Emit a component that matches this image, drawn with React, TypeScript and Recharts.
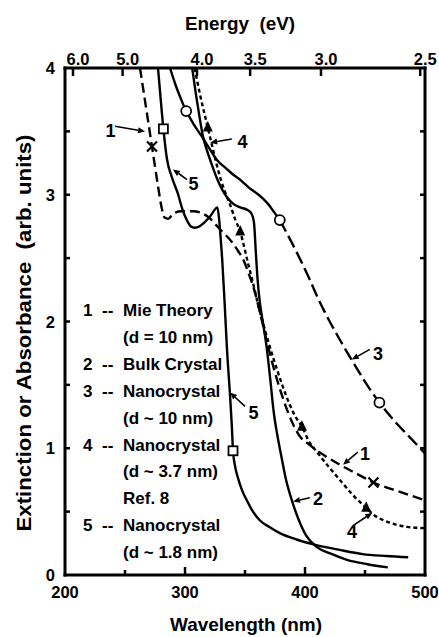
import React from "react";
import {
  ComposedChart,
  Line,
  Scatter,
  XAxis,
  YAxis,
  ReferenceLine,
  ReferenceDot,
} from "recharts";

// [wavelength (nm), extinction / absorbance]
const mieTheory = [
  [262.5, 4.0], [267.5, 3.69], [272.5, 3.38], [277, 3.1], [280.5, 2.9], [283, 2.82],
  [286, 2.81], [290, 2.85], [297, 2.87], [307, 2.87], [315, 2.85], [320, 2.82],
  [326, 2.76], [331, 2.71], [338, 2.64], [344, 2.56], [349, 2.48], [353, 2.38],
  [358, 2.24], [363, 2.05], [368, 1.85], [374, 1.63], [380, 1.44], [386, 1.28],
  [391, 1.17], [396, 1.09], [402, 1.04], [415, 0.95], [429, 0.87], [443, 0.8],
  [457, 0.73], [478, 0.66], [500, 0.59],
];
const bulkCrystal = [
  [306, 4.0], [309, 3.8], [312, 3.62], [315, 3.46], [319, 3.33], [323, 3.22],
  [327, 3.12], [331, 3.04], [335, 2.98], [340, 2.93], [346, 2.9], [352, 2.88],
  [355.5, 2.85], [357.5, 2.78], [359, 2.55], [360.5, 2.33], [362.5, 2.14], [365, 1.99],
  [368, 1.8], [371, 1.55], [374, 1.28], [377, 1.1], [380, 0.95], [384, 0.76],
  [389, 0.59], [395, 0.43], [401, 0.31], [410, 0.22], [421, 0.17], [435, 0.12],
  [452, 0.085], [469, 0.06],
];
const nano10Solid = [
  [287.5, 4.0], [292, 3.87], [296, 3.77], [301, 3.66], [307, 3.56], [314, 3.46],
  [320, 3.37], [327, 3.27], [334, 3.21], [340, 3.16], [347, 3.11], [354, 3.05],
  [360, 3.01], [365, 2.97], [369, 2.93], [373, 2.88], [376, 2.84], [379, 2.8],
];
const nano10Dashed = [
  [379, 2.8], [388, 2.64], [396, 2.49], [404, 2.33], [411, 2.18], [420, 2.01],
  [430, 1.84], [440, 1.68], [451, 1.51], [462, 1.36], [475, 1.21], [488, 1.08],
  [500, 0.96],
];
const nano37 = [
  [308, 4.0], [313, 3.77], [319, 3.53], [323.5, 3.35], [328, 3.18], [333, 3.03],
  [338, 2.91], [342, 2.8], [346, 2.71], [349, 2.6], [352, 2.48], [356, 2.33],
  [361, 2.13], [367, 1.92], [374, 1.7], [381, 1.5], [387, 1.35], [392, 1.25],
  [397.5, 1.17], [403, 1.06], [410, 0.97], [421, 0.84], [430, 0.74], [440, 0.63],
  [451, 0.53], [458, 0.47], [466, 0.43], [475, 0.4], [485, 0.38], [500, 0.37],
];
const nano18 = [
  [277.5, 4.0], [279.5, 3.78], [282, 3.52], [285, 3.28], [289, 3.14], [294, 3.01],
  [298, 2.88], [301.5, 2.8], [305, 2.75], [308, 2.74], [312, 2.75], [316, 2.78],
  [321, 2.83], [327, 2.9], [328.5, 2.8], [330, 2.62], [331, 2.49], [333, 2.15],
  [335, 1.78], [337.5, 1.42], [339, 1.18], [340, 0.98], [341.7, 0.86], [344, 0.77],
  [347.5, 0.67], [352, 0.58], [356, 0.51], [362.5, 0.43], [370, 0.38], [379, 0.33],
  [393, 0.28], [408, 0.24], [428, 0.2], [448, 0.165], [468, 0.15], [486, 0.14],
];

// symbols sitting on the curves
const mieMarks = [[272.5, 3.38], [457, 0.73]];
const nano10Marks = [[301, 3.66], [379, 2.8], [462, 1.36]];
const nano37Marks = [[319, 3.53], [346, 2.71], [397.5, 1.17], [451, 0.53]];
const nano18Marks = [[282, 3.52], [340, 0.98]];

// axis ticks
const wavelengthTicks = [200, 250, 300, 350, 400, 450, 500];
const wavelengthLabels = [200, 300, 400, 500];
const energyTicks = [6.0, 5.0, 4.0, 3.5, 3.0, 2.5];
const valueTicks = [0, 0.5, 1, 1.5, 2, 2.5, 3, 3.5, 4];
const valueLabels = [0, 1, 2, 3, 4];

const legendLines = [
  ["1", "Mie Theory"],
  ["", "(d = 10 nm)"],
  ["2", "Bulk Crystal"],
  ["3", "Nanocrystal"],
  ["", "(d ~ 10 nm)"],
  ["4", "Nanocrystal"],
  ["", "(d ~ 3.7 nm)"],
  ["", "Ref. 8"],
  ["5", "Nanocrystal"],
  ["", "(d ~ 1.8 nm)"],
];

// curve number callouts: label centre, arrow tail, arrow tip (nm, value)
const callouts = [
  { text: "1", at: [237.9, 3.505], from: [241.7, 3.54], to: [266.7, 3.5] },
  { text: "4", at: [347.9, 3.42], from: [339, 3.44], to: [321, 3.41] },
  { text: "5", at: [307.1, 3.085], from: [301.7, 3.12], to: [290, 3.2] },
  { text: "5", at: [357.1, 1.28], from: [350, 1.33], to: [337.5, 1.44] },
  { text: "3", at: [460.8, 1.75], from: [454, 1.78], to: [439, 1.7] },
  { text: "1", at: [450, 0.955], from: [444, 0.97], to: [431.7, 0.87] },
  { text: "2", at: [410.8, 0.6], from: [404, 0.61], to: [390, 0.58] },
  { text: "4", at: [439.2, 0.343], from: [440, 0.39], to: [456, 0.49] },
];

const toPts = (rows: number[][]) => rows.map(([x, y]) => ({ x, y }));

const FONT = "'Liberation Sans', Arial, Helvetica, sans-serif";
const tickFont = { fontFamily: FONT, fontWeight: 700, fontSize: 16.5, fill: "#000" };
const INK = "#000";

const BottomTick = ({ x, y, payload }: any) => {
  const v = payload.value;
  const major = wavelengthLabels.includes(v);
  return (
    <g>
      {v > 200 && v < 500 && (
        <line x1={x} x2={x} y1={y} y2={y - (major ? 8 : 5)} stroke={INK} strokeWidth={2.5} />
      )}
      {major && (
        <text x={x} y={y + 23} textAnchor="middle" style={tickFont}>
          {v}
        </text>
      )}
    </g>
  );
};

const TopTick = ({ x, y, payload }: any) => {
  const e = 1240 / payload.value;
  return (
    <g>
      <line x1={x} x2={x} y1={y} y2={y + 8} stroke={INK} strokeWidth={2.5} />
      <text x={x + 5} y={y - 3} textAnchor="middle" style={tickFont}>
        {e.toFixed(1)}
      </text>
    </g>
  );
};

const LeftTick = ({ x, y, payload }: any) => {
  const v = payload.value;
  return (
    <g>
      {v > 0 && v < 4 && <line x1={x} x2={x + 5} y1={y} y2={y} stroke={INK} strokeWidth={2.5} />}
      {valueLabels.includes(v) && (
        <text x={x - 10} y={y + 6} textAnchor="end" style={tickFont}>
          {v}
        </text>
      )}
    </g>
  );
};

const RightTick = ({ x, y, payload }: any) => {
  const v = payload.value;
  if (v <= 0 || v >= 4) return <g />;
  return <line x1={x} x2={x - 5} y1={y} y2={y} stroke={INK} strokeWidth={2.5} />;
};

const Arrow = (props: any) => {
  const { x1, y1, x2, y2 } = props;
  const a = Math.atan2(y2 - y1, x2 - x1);
  const len = 7;
  const w = 3;
  const bx = x2 - len * Math.cos(a);
  const by = y2 - len * Math.sin(a);
  const px = -Math.sin(a) * w;
  const py = Math.cos(a) * w;
  return (
    <g>
      <line x1={x1} y1={y1} x2={bx} y2={by} stroke={INK} strokeWidth={1.6} />
      <polygon points={`${x2},${y2} ${bx + px},${by + py} ${bx - px},${by - py}`} fill={INK} />
    </g>
  );
};

const openCircle = ({ cx, cy }: any) => (
  <circle cx={cx} cy={cy} r={5} fill="#fff" stroke={INK} strokeWidth={1.8} />
);
const openSquare = ({ cx, cy }: any) => (
  <rect x={cx - 4.5} y={cy - 4.5} width={9} height={9} fill="#fff" stroke={INK} strokeWidth={1.8} />
);
const solidTriangle = ({ cx, cy }: any) => (
  <polygon points={`${cx},${cy - 6.5} ${cx - 5},${cy + 4} ${cx + 5},${cy + 4}`} fill={INK} />
);
const cross = ({ cx, cy }: any) => (
  <g stroke={INK} strokeWidth={2.2}>
    <line x1={cx - 5} y1={cy - 5} x2={cx + 5} y2={cy + 5} />
    <line x1={cx - 5} y1={cy + 5} x2={cx + 5} y2={cy - 5} />
  </g>
);

const curveProps = {
  xAxisId: "b",
  yAxisId: "l",
  dataKey: "y",
  type: "monotone" as const,
  stroke: INK,
  strokeWidth: 2.4,
  dot: false,
  activeDot: false,
  isAnimationActive: false,
};

const axisLine = { stroke: INK, strokeWidth: 3, strokeLinecap: "square" as const };

export default function App() {
  const legendTop = 316;
  const legendStep = 26.9;
  return (
    <div style={{ position: "absolute", left: 0, top: 0, background: "#fff" }}>
      <ComposedChart width={439} height={637} margin={{ top: 0, right: 0, bottom: 0, left: 0 }}>
        <XAxis
          xAxisId="b"
          type="number"
          dataKey="x"
          domain={[200, 500]}
          ticks={wavelengthTicks}
          interval={0}
          orientation="bottom"
          height={62}
          tickSize={0}
          tickMargin={0}
          tickLine={false}
          axisLine={axisLine}
          tick={<BottomTick />}
          allowDataOverflow
        />
        <XAxis
          xAxisId="t"
          type="number"
          dataKey="x"
          domain={[200, 500]}
          ticks={energyTicks.map((e) => 1240 / e)}
          interval={0}
          orientation="top"
          height={68}
          tickSize={0}
          tickMargin={0}
          tickLine={false}
          axisLine={axisLine}
          tick={<TopTick />}
          allowDataOverflow
        />
        <YAxis
          yAxisId="l"
          type="number"
          domain={[0, 4]}
          ticks={valueTicks}
          interval={0}
          width={65}
          tickSize={0}
          tickMargin={0}
          tickLine={false}
          axisLine={axisLine}
          tick={<LeftTick />}
          allowDataOverflow
        />
        <YAxis
          yAxisId="r"
          orientation="right"
          type="number"
          domain={[0, 4]}
          ticks={valueTicks}
          interval={0}
          width={14}
          tickSize={0}
          tickMargin={0}
          tickLine={false}
          axisLine={axisLine}
          tick={<RightTick />}
          allowDataOverflow
        />

        <Line {...curveProps} data={toPts(mieTheory)} strokeDasharray="10 5" />
        <Line {...curveProps} data={toPts(bulkCrystal)} />
        <Line {...curveProps} data={toPts(nano10Solid)} />
        <Line {...curveProps} data={toPts(nano10Dashed)} strokeDasharray="13 5" />
        <Line {...curveProps} data={toPts(nano37)} strokeDasharray="4 3" />
        <Line {...curveProps} data={toPts(nano18)} />

        <Scatter xAxisId="b" yAxisId="l" dataKey="y" data={toPts(mieMarks)} shape={cross} isAnimationActive={false} />
        <Scatter xAxisId="b" yAxisId="l" dataKey="y" data={toPts(nano10Marks)} shape={openCircle} isAnimationActive={false} />
        <Scatter xAxisId="b" yAxisId="l" dataKey="y" data={toPts(nano37Marks)} shape={solidTriangle} isAnimationActive={false} />
        <Scatter xAxisId="b" yAxisId="l" dataKey="y" data={toPts(nano18Marks)} shape={openSquare} isAnimationActive={false} />

        {callouts.map((c, i) => (
          <ReferenceLine
            key={`a${i}`}
            xAxisId="b"
            yAxisId="l"
            segment={[
              { x: c.from[0], y: c.from[1] },
              { x: c.to[0], y: c.to[1] },
            ]}
            ifOverflow="visible"
            shape={Arrow}
          />
        ))}
        {callouts.map((c, i) => (
          <ReferenceDot
            key={`t${i}`}
            xAxisId="b"
            yAxisId="l"
            x={c.at[0]}
            y={c.at[1]}
            r={0}
            ifOverflow="visible"
            shape={({ cx, cy }: any) => (
              <text
                x={cx}
                y={cy + 6.5}
                textAnchor="middle"
                style={{ fontFamily: FONT, fontWeight: 700, fontSize: 18, fill: INK }}
              >
                {c.text}
              </text>
            )}
          />
        ))}

        <g style={{ fontFamily: FONT, fontWeight: 700, fontSize: 17, fill: INK }}>
          {legendLines.map(([num, label], i) => (
            <g key={i}>
              {num && (
                <>
                  <text x={83} y={legendTop + i * legendStep}>{num}</text>
                  <text x={102} y={legendTop + i * legendStep}>--</text>
                </>
              )}
              <text x={123} y={legendTop + i * legendStep}>{label}</text>
            </g>
          ))}
        </g>

        <text
          x={240}
          y={30}
          textAnchor="middle"
          textLength={110}
          lengthAdjust="spacingAndGlyphs"
          style={{ fontFamily: FONT, fontWeight: 700, fontSize: 19, whiteSpace: "pre" }}
        >
          {"Energy  (eV)"}
        </text>
        <text
          x={246}
          y={631}
          textAnchor="middle"
          textLength={152}
          lengthAdjust="spacingAndGlyphs"
          style={{ fontFamily: FONT, fontWeight: 700, fontSize: 19 }}
        >
          Wavelength (nm)
        </text>
        <text
          x={0}
          y={0}
          transform="translate(31,333) rotate(-90)"
          textAnchor="middle"
          textLength={397}
          lengthAdjust="spacingAndGlyphs"
          style={{ fontFamily: FONT, fontWeight: 700, fontSize: 20, whiteSpace: "pre" }}
        >
          {"Extinction or Absorbance  (arb. units)"}
        </text>
      </ComposedChart>
    </div>
  );
}
